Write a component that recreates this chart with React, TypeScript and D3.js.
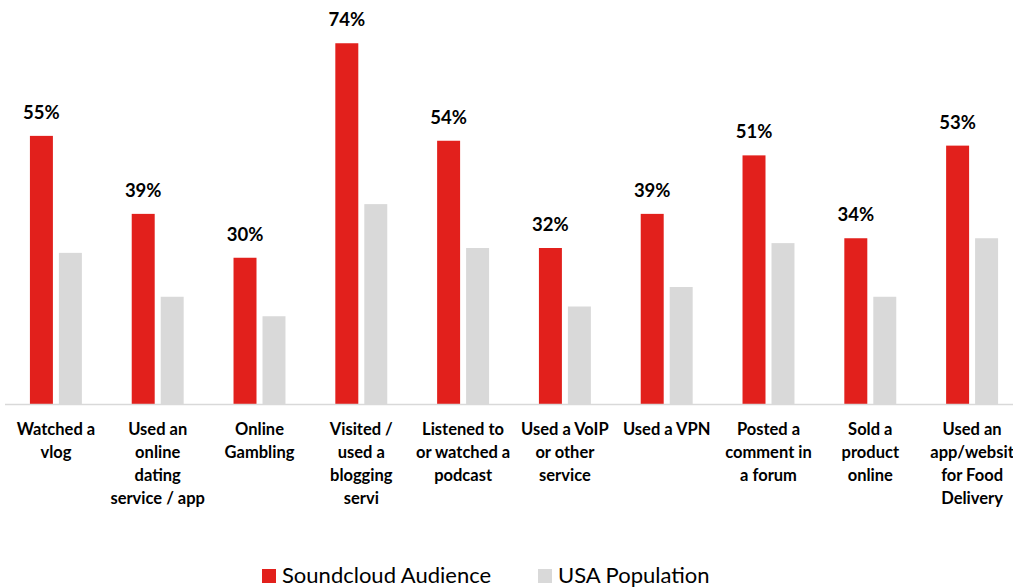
import * as React from 'react';
import * as d3 from 'd3';

// category labels, already split into lines as in the original
const categories: string[][] = [
    ['Watched a', 'vlog'],
    ['Used an', 'online', 'dating', 'service / app'],
    ['Online', 'Gambling'],
    ['Visited /', 'used a', 'blogging', 'servi'],
    ['Listened to', 'or watched a', 'podcast'],
    ['Used a VoIP', 'or other', 'service'],
    ['Used a VPN'],
    ['Posted a', 'comment in', 'a forum'],
    ['Sold a', 'product', 'online'],
    ['Used an', 'app/websit', 'for Food', 'Delivery'],
];
const soundcloud: number[] = [55, 39, 30, 74, 54, 32, 39, 51, 34, 53];
const usaPopulation: number[] = [31, 22, 18, 41, 32, 20, 24, 33, 22, 34];
const seriesNames = ['Soundcloud Audience', 'USA Population'];
const seriesColors = ['#E2201C', '#D9D9D9'];

const W = 1013;
const H = 587;
const FONT = 'Lato, "Open Sans", sans-serif';

export default function App() {
    const idx = categories.map((_, i) => String(i));
    const x0 = d3.scaleBand().domain(idx).range([5, 1023]);
    const x1 = d3.scaleBand().domain(['sc', 'usa'])
        .range([0, x0.bandwidth()])
        .paddingInner(0.207)
        .paddingOuter(0.86);
    const y = d3.scaleLinear().domain([0, 80]).range([404, 14]);

    return (
        <svg width={W} height={H} style={{ position: 'absolute', left: 0, top: 0, background: '#fff' }}
             fontFamily={FONT}>
            {idx.map((k, i) => {
                const gx = x0(k) as number;
                const cx = gx + x0.bandwidth() / 2;
                const rx = gx + (x1('sc') as number);
                const ux = gx + (x1('usa') as number);
                return (
                    <g key={k}>
                        <rect x={rx} y={y(soundcloud[i])} width={x1.bandwidth()}
                              height={y(0) - y(soundcloud[i])} fill={seriesColors[0]} />
                        <rect x={ux} y={y(usaPopulation[i])} width={x1.bandwidth()}
                              height={y(0) - y(usaPopulation[i])} fill={seriesColors[1]} />
                        <text x={rx + x1.bandwidth() / 2} y={y(soundcloud[i]) - 17}
                              textAnchor="middle" fontWeight="bold" fontSize={18.5} fill="#000">
                            {soundcloud[i] + '%'}
                        </text>
                        <text textAnchor="middle" fontWeight="bold" fontSize={16.5} fill="#000">
                            {categories[i].map((line, j) => (
                                <tspan key={j} x={cx} y={435 + j * 23}>{line}</tspan>
                            ))}
                        </text>
                    </g>
                );
            })}
            <line x1={5} x2={W} y1={y(0) + 0.5} y2={y(0) + 0.5} stroke="#D9D9D9" strokeWidth={1.5} />

            {/* legend */}
            <rect x={262} y={569} width={14} height={14} fill={seriesColors[0]} />
            <text x={282} y={583} fontSize={22} fill="#000">{seriesNames[0]}</text>
            <rect x={538} y={569} width={14} height={14} fill={seriesColors[1]} />
            <text x={558} y={583} fontSize={22} fill="#000">{seriesNames[1]}</text>
        </svg>
    );
}
